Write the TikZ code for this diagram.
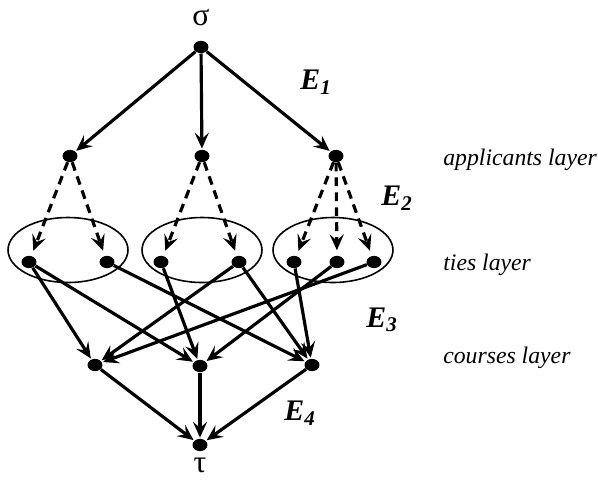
\documentclass[tikz,border=0pt]{standalone}
\usepackage{fontspec}
\setmainfont{Liberation Serif}
\usetikzlibrary{arrows.meta,positioning,shapes.geometric}

\begin{document}
\begin{tikzpicture}[
  x=0.02cm, y=-0.02cm,
  >={Stealth[length=9pt,width=8pt,inset=3.5pt]},
  vert/.style={ellipse,fill=black,inner sep=0pt,minimum width=8.5pt,minimum height=7pt},
  group/.style={draw,ellipse,line width=0.9pt,minimum width=2.4cm,minimum height=1.3cm},
  edge/.style={->,line width=1.8pt,shorten >=0.5pt},
  dashedge/.style={->,line width=1.8pt,dash pattern=on 5pt off 3.5pt,shorten >=3pt},
  greek/.style={inner sep=0pt,font=\fontsize{18}{22}\selectfont},
  elabel/.style={font=\fontsize{17}{20}\selectfont\bfseries\itshape},
  layer/.style={anchor=west,inner sep=0pt,font=\fontsize{13.5}{16}\selectfont\itshape}
]
  \useasboundingbox (0,0) rectangle (598,481);

  % tie groups
  \node[group] (g1) at (68,250) {};
  \node[group] (g2) at (202,250) {};
  \node[group] (g3) at (333,250) {};

  % vertices
  \node[vert] (src) at (201,47) {};
  \node[greek,above=0.28cm of src] (sigma) {σ};
  \node[vert] (a1) at (70,156) {};
  \node[vert] (a2) at (202,156) {};
  \node[vert] (a3) at (336,156) {};
  \node[vert] (t1) at (29,262) {};
  \node[vert] (t2) at (107,262) {};
  \node[vert] (t3) at (161,262) {};
  \node[vert] (t4) at (239,262) {};
  \node[vert] (t5) at (294,262) {};
  \node[vert] (t6) at (337,262) {};
  \node[vert] (t7) at (374,262) {};
  \node[vert] (c1) at (95,365) {};
  \node[vert] (c2) at (200,366) {};
  \node[vert] (c3) at (312,365) {};
  \node[vert] (snk) at (200,445) {};
  \node[greek,below=0.12cm of snk] (tau) {τ};

  % edge set labels
  \node[elabel] (e1) at (316,82) {E\textsubscript{1}};
  \node[elabel] (e2) at (397,198) {E\textsubscript{2}};
  \node[elabel] (e3) at (382,320) {E\textsubscript{3}};
  \node[elabel] (e4) at (300,413) {E\textsubscript{4}};

  % layer names
  \node[layer] (lapp) at (443,160) {applicants layer};
  \node[layer] (ltie) at (443,265) {ties layer};
  \node[layer] (lcrs) at (443,358) {courses layer};

  % E1
  \draw[edge] (src) -- (a1);
  \draw[edge] (src) -- (a2);
  \draw[edge] (src) -- (a3);
  % E2
  \draw[dashedge] (a1) -- (t1);
  \draw[dashedge] (a1) -- (t2);
  \draw[dashedge] (a2) -- (t3);
  \draw[dashedge] (a2) -- (t4);
  \draw[dashedge] (a3) -- (t5);
  \draw[dashedge] (a3) -- (t6);
  \draw[dashedge] (a3) -- (t7);
  % E3
  \draw[edge] (t1) -- (c1);
  \draw[edge] (t1) -- (c2);
  \draw[edge] (t2) -- (c3);
  \draw[edge] (t3) -- (c2);
  \draw[edge] (t4) -- (c1);
  \draw[edge] (t4) -- (c3);
  \draw[edge] (t5) -- (c3);
  \draw[edge] (t6) -- (c2);
  \draw[edge] (t7) -- (c1);
  % E4
  \draw[edge] (c1) -- (snk);
  \draw[edge] (c2) -- (snk);
  \draw[edge] (c3) -- (snk);
\end{tikzpicture}
\end{document}
